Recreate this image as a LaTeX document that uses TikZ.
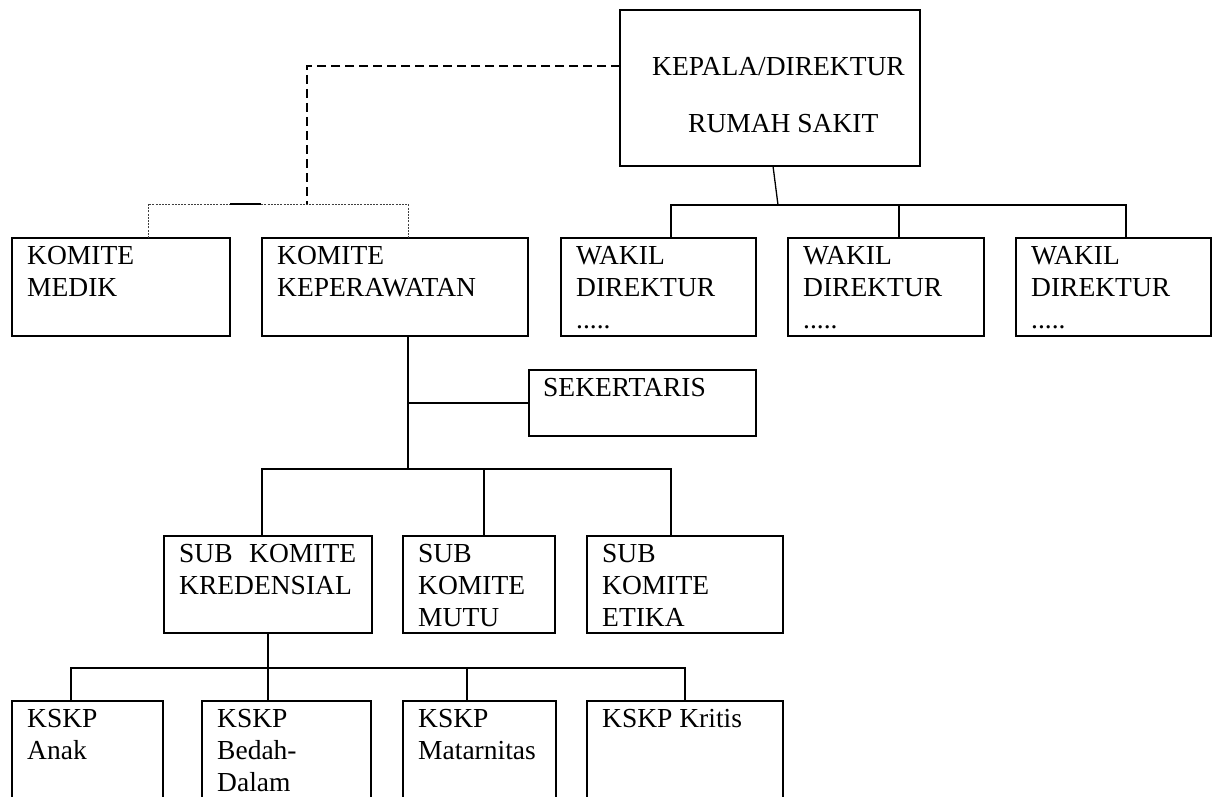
\documentclass[tikz,border=0pt]{standalone}
\usepackage{fontspec}
\setmainfont{Liberation Serif}

% stacked lines of a box label; the node's base is the first line's baseline
\newcommand\boxlines[1]{\begin{tabular}[t]{@{}l@{}}#1\end{tabular}}
% an empty framed box from (x1,y1) to (x2,y2), y counted downwards
\newcommand\orgbox[5]{%
  \node[box, minimum width={(#4-#2)*1pt}, minimum height={(#5-#3)*1pt}] (#1) at (#2,#3) {};}

\begin{document}
\begin{tikzpicture}[x=1pt,y=-1pt,
  box/.style={draw, line width=2.2pt, rectangle, inner sep=0pt, outer sep=0pt, anchor=north west},
  lbl/.style={anchor=base west, inner sep=0pt, font=\fontsize{27.5}{32}\selectfont},
  inbox/.style={lbl, xshift=15pt, yshift=-26.5pt},
  conn/.style={line width=2.2pt},
  thinconn/.style={line width=1.3pt},
  dashline/.style={line width=2.6pt, dash pattern=on 9pt off 5pt},
  dotline/.style={line width=1pt, dash pattern=on 2pt off 1.2pt, black!75}]

\useasboundingbox (0,0) rectangle (1217,797);
\clip (0,0) rectangle (1217,797);

% ---- boxes ----
\orgbox{dir}{620}{10}{920}{166}
\orgbox{medik}{12}{238}{230}{336}
\orgbox{kep}{262}{238}{528}{336}
\orgbox{w1}{561}{238}{756}{336}
\orgbox{w2}{788}{238}{984}{336}
\orgbox{w3}{1016}{238}{1211}{336}
\orgbox{sek}{529}{370}{756}{436}
\orgbox{kred}{164}{536}{372}{633}
\orgbox{mutu}{403}{536}{555}{633}
\orgbox{etika}{587}{536}{783}{633}
\orgbox{anak}{12}{701}{163}{820}
\orgbox{bedah}{202}{701}{371}{820}
\orgbox{mat}{403}{701}{556}{820}
\orgbox{kritis}{587}{701}{783}{820}

% ---- labels ----
\node[lbl] (dir-t1) at (652,76) {KEPALA/DIREKTUR};
\node[lbl] (dir-t2) at (688,132) {RUMAH SAKIT};
\node[inbox] (medik-t) at (medik.north west) {\boxlines{KOMITE\\MEDIK}};
\node[inbox] (kep-t) at (kep.north west) {\boxlines{KOMITE\\KEPERAWATAN}};
\node[inbox] (w1-t) at (w1.north west) {\boxlines{WAKIL\\DIREKTUR\\.....}};
\node[inbox] (w2-t) at (w2.north west) {\boxlines{WAKIL\\DIREKTUR\\.....}};
\node[inbox] (w3-t) at (w3.north west) {\boxlines{WAKIL\\DIREKTUR\\.....}};
\node[inbox, xshift=-1pt] (sek-t) at (sek.north west) {SEKERTARIS};
\node[inbox] (kred-t) at (kred.north west) {\boxlines{SUB\hspace{16.5pt}KOMITE\\KREDENSIAL}};
\node[inbox] (mutu-t) at (mutu.north west) {\boxlines{SUB\\KOMITE\\MUTU}};
\node[inbox] (etika-t) at (etika.north west) {\boxlines{SUB\\KOMITE\\ETIKA}};
\node[inbox] (anak-t) at (anak.north west) {\boxlines{KSKP\\Anak}};
\node[inbox] (bedah-t) at (bedah.north west) {\boxlines{KSKP\\Bedah-\\Dalam}};
\node[inbox] (mat-t) at (mat.north west) {\boxlines{KSKP\\Matarnitas}};
\node[inbox] (kritis-t) at (kritis.north west) {KSKP Kritis};

% ---- junction points ----
\coordinate (dj) at (307,204);
\coordinate (mj) at (148,204);
\coordinate (kj) at (408,204);
\coordinate (sa) at (230,204);
\coordinate (sb) at (261,204);
\coordinate (db) at (773,166);
\coordinate (wj) at (778,205);
\coordinate (w1j) at (671,205);
\coordinate (w2j) at (899,205);
\coordinate (w3j) at (1126,205);
\coordinate (kb) at (408,336);
\coordinate (sj) at (408,469);
\coordinate (s1) at (262,469);
\coordinate (s2) at (484,469);
\coordinate (s3) at (671,469);
\coordinate (k1) at (71,668);
\coordinate (k3) at (467,668);
\coordinate (k4) at (685,668);

% ---- advisory line to the committees ----
\draw[dashline] (dir.north west) ++(0,56) -| (dj);
\draw[dotline] (mj |- medik.north) -- (mj) -- (kj) -- (kj |- kep.north);
\draw[line width=1.8pt] (sa) -- (sb);

% ---- director to deputies ----
\draw[thinconn] (db) -- (wj);
\draw[conn] (w1j |- w1.north) -- (w1j) -- (w3j) -- (w3j |- w3.north);
\draw[conn] (w2j) -- (w2j |- w2.north);

% ---- nursing committee ----
\draw[conn] (kb) -- (sj);
\draw[conn] (kb |- sek.west) -- (sek.west);
\draw[conn] (s1 |- kred.north) -- (s1) -- (s3) -- (s3 |- etika.north);
\draw[conn] (s2) -- (s2 |- mutu.north);

% ---- credential sub-committee ----
\draw[conn] (kred.south) -- (kred.south |- bedah.north);
\draw[conn] (k1 |- anak.north) -- (k1) -- (k4) -- (k4 |- kritis.north);
\draw[conn] (k3) -- (k3 |- mat.north);
\end{tikzpicture}
\end{document}
